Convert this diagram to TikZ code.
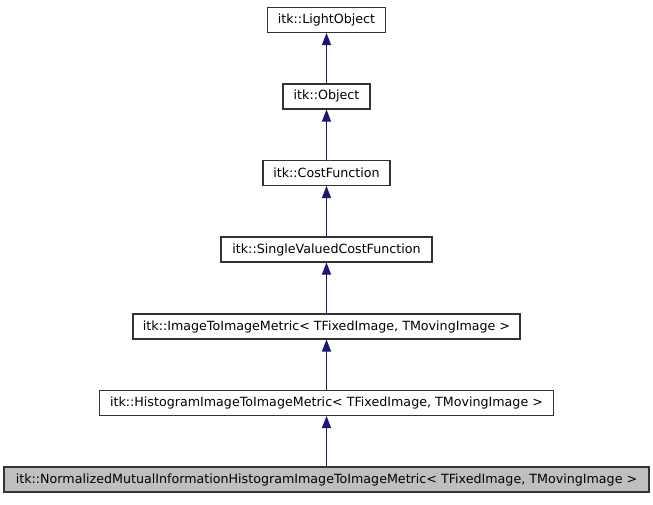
\documentclass[tikz,border=0pt]{standalone}
\usepackage{fontspec}
\setmainfont{DejaVu Sans}
\usetikzlibrary{arrows.meta}
\definecolor{arrowblue}{RGB}{25,25,112}
\definecolor{leafgray}{RGB}{191,191,191}

\begin{document}
\begin{tikzpicture}[x=0.75pt,y=-0.75pt,cls/.style={draw=black!80,line width=0.8pt,fill=white,minimum height=18.75pt,inner sep=0pt,font=\fontsize{9.5}{11.5}\selectfont},leaf/.style={cls,fill=leafgray},inh/.style={{Triangle[length=9pt,width=6.8pt]}-,draw=arrowblue,fill=arrowblue,line width=0.75pt}]
\useasboundingbox (0,0) rectangle (653,504);
\node[cls,minimum width=88.5pt] (light) at (326.5,20) {itk::LightObject};
\node[cls,minimum width=65.25pt] (object) at (326.5,96.5) {itk::Object};
\node[cls,minimum width=95.25pt] (cost) at (326.5,173) {itk::CostFunction};
\node[cls,minimum width=158.25pt] (single) at (326.5,249.5) {itk::SingleValuedCostFunction};
\node[cls,minimum width=290.25pt] (metric) at (326.5,326.5) {itk::ImageToImageMetric< TFixedImage, TMovingImage >};
\node[cls,minimum width=340.5pt] (histo) at (326.5,403) {itk::HistogramImageToImageMetric< TFixedImage, TMovingImage >};
\node[leaf,minimum width=483.75pt] (nmi) at (326.5,479.5) {itk::NormalizedMutualInformationHistogramImageToImageMetric< TFixedImage, TMovingImage >};
\foreach \p/\c in {light/object,object/cost,cost/single,single/metric,metric/histo,histo/nmi}
  \draw[inh] (\p) -- (\c);
\end{tikzpicture}
\end{document}
